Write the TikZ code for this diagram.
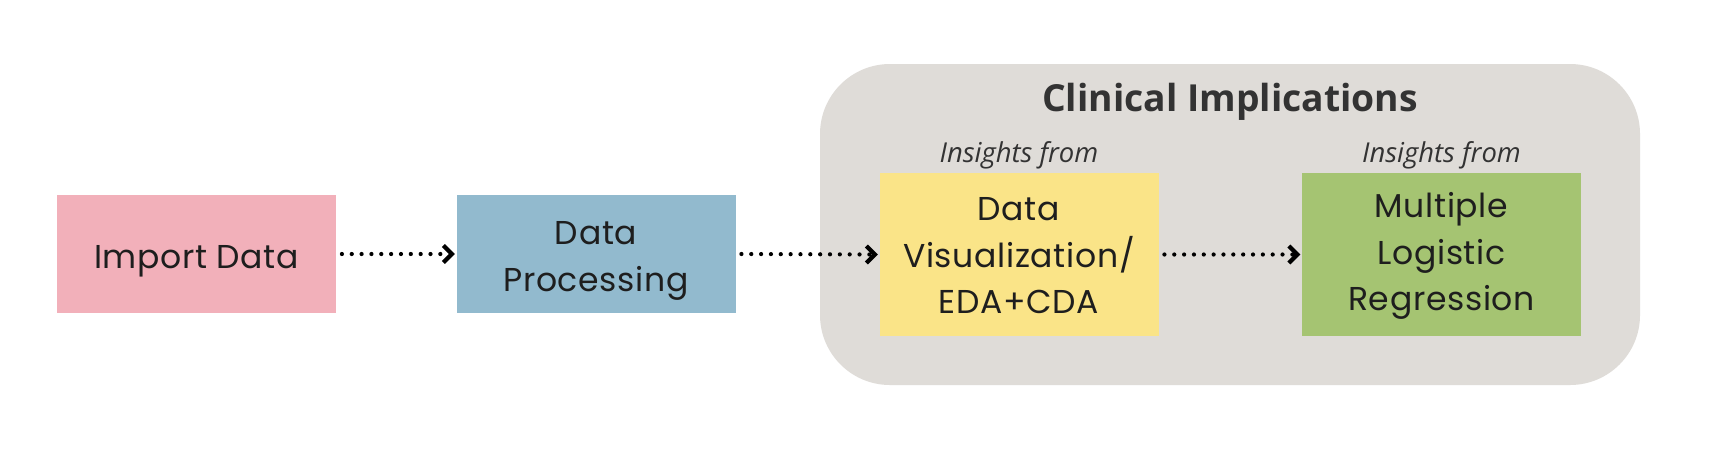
\documentclass[tikz,border=0pt]{standalone}
\usepackage{fontspec}
\setmainfont{Poppins}
\newfontfamily\titlefont{Open Sans}
\usetikzlibrary{arrows.meta}
\definecolor{cpink}{HTML}{F2B0BA}
\definecolor{cblue}{HTML}{92BACE}
\definecolor{cyellow}{HTML}{FAE488}
\definecolor{cgreen}{HTML}{A5C472}
\definecolor{cgray}{HTML}{DFDCD8}
\definecolor{ctext}{HTML}{1E1E1E}
\definecolor{ctitle}{HTML}{333333}
\tikzset{
  boxstyle/.style={minimum width=279*0.025cm, inner sep=0pt},
  boxtext/.style={align=center, text=ctext, inner sep=0pt,
    font=\fontsize{23.5}{33}\selectfont\addfontfeature{LetterSpace=2}},
  flow/.style={line width=3pt, line cap=round, dash pattern=on 0pt off 7pt,
    -{Straight Barb[length=6pt,width=12pt,line width=3pt]}, black, shorten >=1pt},
  insight/.style={font=\titlefont\itshape\fontsize{19.5}{22}\selectfont, text=ctitle}
}
\begin{document}
\begin{tikzpicture}[x=0.025cm,y=-0.025cm]
\useasboundingbox (0,0) rectangle (1720,470);
\fill[white] (0,0) rectangle (1720,470);
\fill[cgray, rounded corners=70*0.025cm] (820,64) rectangle (1640,385);
\node[font=\titlefont\bfseries\fontsize{26.5}{30}\selectfont, text=ctitle] (title) at (1230,102) {Clinical Implications};
\node[boxstyle, fill=cpink, minimum height=118*0.025cm] (imp) at (196.5,254) {};
\node[boxstyle, fill=cblue, minimum height=118*0.025cm] (proc) at (596,254) {};
\node[boxstyle, fill=cyellow, minimum height=163*0.025cm] (viz) at (1019,254.5) {};
\node[boxstyle, fill=cgreen, minimum height=163*0.025cm] (mlr) at (1441.5,254.5) {};
\node[boxtext] (imptxt) at ([yshift=-5pt]imp.center) {Import Data};
\node[boxtext] (proctxt) at ([yshift=-5pt]proc.center) {Data\\Processing};
\node[boxtext] (viztxt) at ([yshift=-1pt]viz.center) {Data\\Visualization/\\EDA+CDA};
\node[boxtext] (mlrtxt) at ([yshift=-1pt]mlr.center) {Multiple\\Logistic\\Regression};
\node[insight] (ins1) at (1019,155) {Insights from};
\node[insight] (ins2) at (1441.5,155) {Insights from};
\draw[flow] (imp.east) ++(4pt,0) coordinate (s1) -- (proc.west);
\draw[flow] (proc.east) ++(4pt,0) coordinate (s2) -- (viz.west);
\draw[flow] (viz.east) ++(4pt,0) coordinate (s3) -- (mlr.west);
\end{tikzpicture}
\end{document}
